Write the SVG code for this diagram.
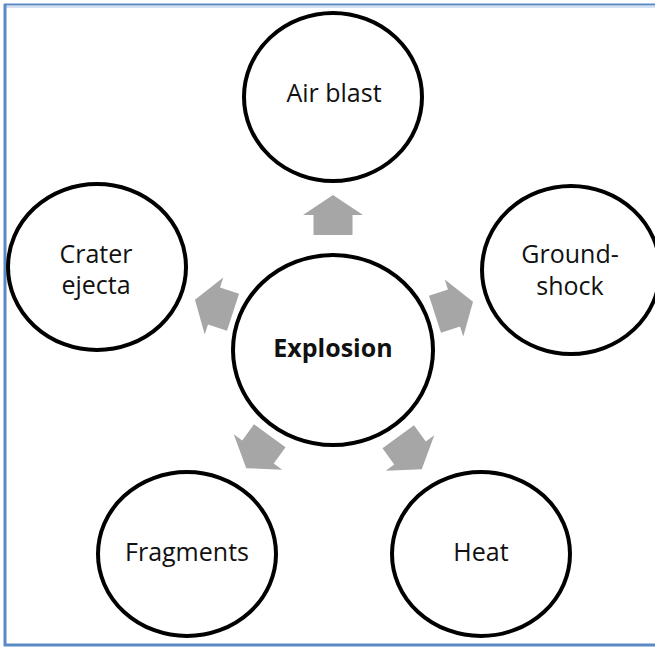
<svg xmlns="http://www.w3.org/2000/svg" width="655" height="647" viewBox="0 0 655 647">
  <defs>
    <style>
      .node { fill: #ffffff; stroke: #000000; stroke-width: 4; }
      .lbl { font-family: "Open Sans", "Liberation Sans", sans-serif; font-size: 25px; fill: #111111; text-anchor: middle; }
      .bold { font-weight: bold; }
      .arrow { fill: #a6a6a6; }
    </style>
    <path id="arr" d="M0,-20 L30,0 L19.5,0 L19.5,20 L-19.5,20 L-19.5,0 L-30,0 Z"/>
  </defs>
  <rect x="0" y="0" width="655" height="647" fill="#ffffff"/>
  <g id="frame">
    <line x1="6" y1="7" x2="655" y2="7" stroke="#d3e1f3" stroke-width="2"/>
    <line x1="4" y1="4.5" x2="655" y2="4.5" stroke="#5a8ac6" stroke-width="2"/>
    <line x1="5" y1="4" x2="5" y2="646" stroke="#5a8ac6" stroke-width="3"/>
    <line x1="4" y1="645" x2="655" y2="645" stroke="#5a8ac6" stroke-width="3"/>
  </g>
  <g id="connectors" class="arrow">
    <use href="#arr" transform="translate(333,215)"/>
    <use href="#arr" transform="translate(214,306) rotate(-72)"/>
    <use href="#arr" transform="translate(454,308) rotate(72)"/>
    <use href="#arr" transform="translate(258,452) rotate(-144)"/>
    <use href="#arr" transform="translate(410,453) rotate(144)"/>
  </g>
  <g id="node-explosion">
    <ellipse class="node" cx="333" cy="350" rx="100" ry="95"/>
    <text class="lbl bold" x="333" y="357">Explosion</text>
  </g>
  <g id="node-airblast">
    <ellipse class="node" cx="333" cy="97" rx="89" ry="84"/>
    <text class="lbl" x="334" y="102">Air blast</text>
  </g>
  <g id="node-crater">
    <ellipse class="node" cx="97" cy="267" rx="89" ry="83"/>
    <text class="lbl" x="96" y="263">Crater</text>
    <text class="lbl" x="96" y="294">ejecta</text>
  </g>
  <g id="node-groundshock">
    <ellipse class="node" cx="571" cy="270" rx="89" ry="84"/>
    <text class="lbl" x="570" y="263">Ground-</text>
    <text class="lbl" x="570" y="295">shock</text>
  </g>
  <g id="node-fragments">
    <ellipse class="node" cx="187" cy="554" rx="89" ry="82"/>
    <text class="lbl" x="187" y="561">Fragments</text>
  </g>
  <g id="node-heat">
    <ellipse class="node" cx="481" cy="554" rx="89" ry="82"/>
    <text class="lbl" x="481" y="561">Heat</text>
  </g>
</svg>
